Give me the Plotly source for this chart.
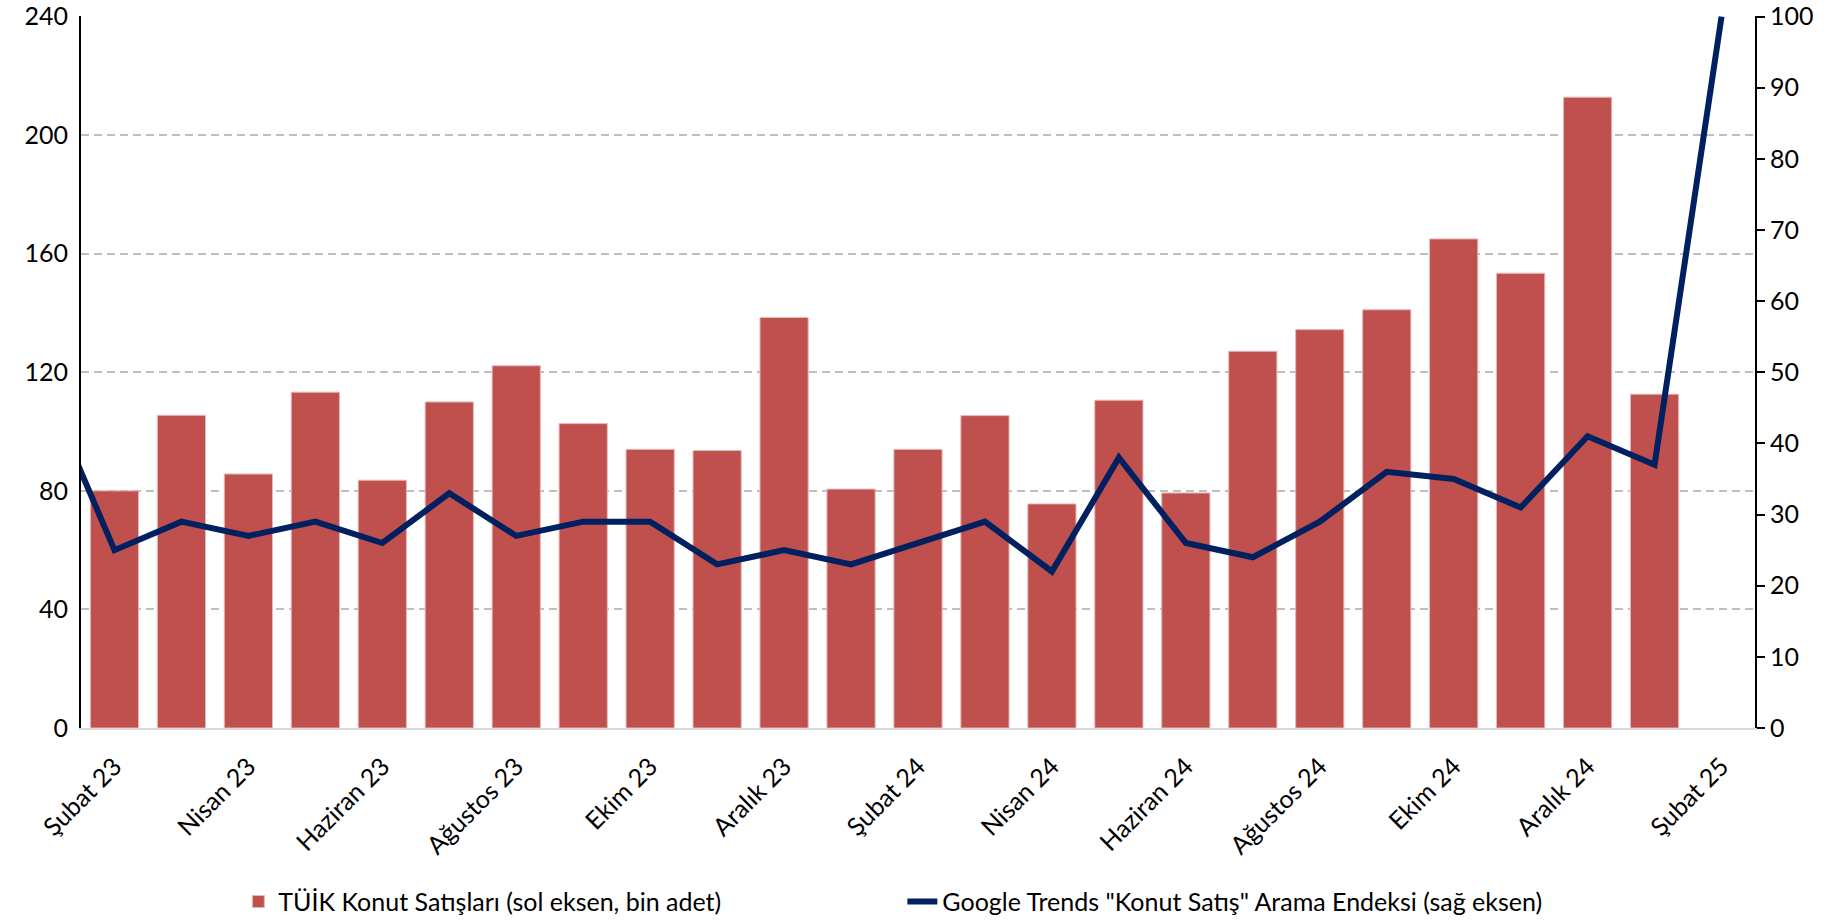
import plotly.graph_objects as go

# ---- data ----
months = ["Ocak 23", "Şubat 23", "Mart 23", "Nisan 23", "Mayıs 23", "Haziran 23", "Temmuz 23",
          "Ağustos 23", "Eylül 23", "Ekim 23", "Kasım 23", "Aralık 23", "Ocak 24",
          "Şubat 24", "Mart 24", "Nisan 24", "Mayıs 24", "Haziran 24", "Temmuz 24",
          "Ağustos 24", "Eylül 24", "Ekim 24", "Kasım 24", "Aralık 24", "Ocak 25", "Şubat 25"]

# TÜİK house sales (thousand units), left axis
tuik_sales = [None, 80.0, 105.5, 85.7, 113.3, 83.6, 110.0, 122.2, 102.7, 94.0, 93.6, 138.5, 80.6,
              94.0, 105.4, 75.6, 110.6, 79.3, 127.1, 134.4, 141.1, 165.0, 153.4, 212.8, 112.6, None]

# Google Trends "Konut Satış" index, right axis
trends = [47, 25, 29, 27, 29, 26, 33, 27, 29, 29, 23, 25, 23,
          26, 29, 22, 38, 26, 24, 29, 36, 35, 31, 41, 37, 100]

tick_idx = list(range(1, len(months), 2))
tick_labels = [months[i] for i in tick_idx]
left_ticks = [0, 40, 80, 120, 160, 200, 240]
right_ticks = [0, 10, 20, 30, 40, 50, 60, 70, 80, 90, 100]

bar_name = "TÜİK Konut Satışları (sol eksen, bin adet)"
line_name = 'Google Trends "Konut Satış" Arama Endeksi (sağ eksen)'

FONT = "Lato"
FS = 25
x = list(range(len(months)))

fig = go.Figure()
fig.add_trace(go.Bar(
    x=x, y=tuik_sales, name=bar_name,
    marker=dict(color="#C0504D", line=dict(color="#E6B9B8", width=1)),
    yaxis="y",
))
fig.add_trace(go.Scatter(
    x=x, y=trends, name=line_name, mode="lines",
    line=dict(color="#002060", width=6),
    yaxis="y2",
))

fig.update_layout(
    width=1834, height=921,
    paper_bgcolor="white", plot_bgcolor="white",
    margin=dict(l=81, r=79, t=16, b=193, autoexpand=False),
    bargap=0.28,
    font=dict(family=FONT, size=FS, color="black"),
    xaxis=dict(
        range=[0.5, len(months) - 0.5],
        tickmode="array", tickvals=tick_idx, ticktext=tick_labels,
        tickangle=-45, ticks="outside", ticklen=12, tickcolor="rgba(0,0,0,0)",
        showgrid=False, zeroline=False, automargin=False,
        showline=True, linecolor="#D9D9D9", linewidth=2,
        tickfont=dict(family=FONT, size=FS),
    ),
    yaxis=dict(
        range=[0, 240.2], tickmode="array", tickvals=left_ticks,
        showgrid=True, gridcolor="#BFBFBF", gridwidth=1.5, griddash="8px,5px",
        zeroline=False, showline=True, linecolor="black", linewidth=2,
        ticks="outside", ticklen=6, tickcolor="rgba(0,0,0,0)", automargin=False,
        ticklabeloverflow="allow",
        tickfont=dict(family=FONT, size=FS),
    ),
    yaxis2=dict(
        range=[0, 100.08], tickmode="array", tickvals=right_ticks,
        overlaying="y", side="right",
        showgrid=False, zeroline=False, showline=True, linecolor="black", linewidth=2,
        ticks="outside", ticklen=8, tickwidth=2, tickcolor="black", automargin=False,
        ticklabeloverflow="allow",
        tickfont=dict(family=FONT, size=FS),
    ),
    legend=dict(
        orientation="h", x=0.094, y=-0.244, xanchor="left", yanchor="middle",
        font=dict(family=FONT, size=FS),
        entrywidth=619, entrywidthmode="pixels",
        bgcolor="rgba(0,0,0,0)",
    ),
    showlegend=True,
)

fig.write_html("out.html", config={"displayModeBar": False},
               post_script="document.body.style.margin='0';")
